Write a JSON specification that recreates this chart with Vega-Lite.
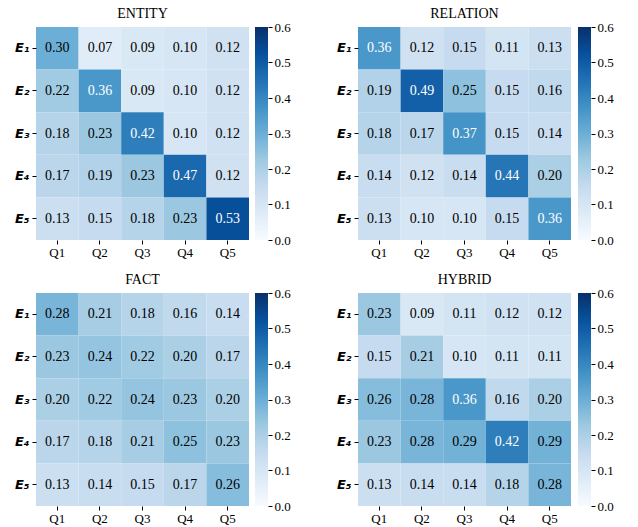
{
  "$schema": "https://vega.github.io/schema/vega-lite/v6.json",
  "padding": {"left": 14, "top": 7, "right": 5, "bottom": 0},
  "background": "white",
  "config": {
    "view": {"stroke": null},
    "title": {"font": "Liberation Serif", "fontSize": 14, "fontWeight": "normal", "color": "black", "offset": 6},
    "axis": {"labelFont": "Liberation Serif", "labelFontSize": 13, "labelColor": "black", "tickColor": "black", "domain": false, "tickSize": 4, "labelPadding": 2, "title": null, "grid": false},
    "axisX": {"labelAngle": 0}
  },
  "datasets": {
    "bar": [{"lo": 0, "hi": 0.6}],
    "cells": [
      {"p":"ENTITY","r":"E₁","q":"Q1","v":0.30},{"p":"ENTITY","r":"E₁","q":"Q2","v":0.07},{"p":"ENTITY","r":"E₁","q":"Q3","v":0.09},{"p":"ENTITY","r":"E₁","q":"Q4","v":0.10},{"p":"ENTITY","r":"E₁","q":"Q5","v":0.12},
      {"p":"ENTITY","r":"E₂","q":"Q1","v":0.22},{"p":"ENTITY","r":"E₂","q":"Q2","v":0.36},{"p":"ENTITY","r":"E₂","q":"Q3","v":0.09},{"p":"ENTITY","r":"E₂","q":"Q4","v":0.10},{"p":"ENTITY","r":"E₂","q":"Q5","v":0.12},
      {"p":"ENTITY","r":"E₃","q":"Q1","v":0.18},{"p":"ENTITY","r":"E₃","q":"Q2","v":0.23},{"p":"ENTITY","r":"E₃","q":"Q3","v":0.42},{"p":"ENTITY","r":"E₃","q":"Q4","v":0.10},{"p":"ENTITY","r":"E₃","q":"Q5","v":0.12},
      {"p":"ENTITY","r":"E₄","q":"Q1","v":0.17},{"p":"ENTITY","r":"E₄","q":"Q2","v":0.19},{"p":"ENTITY","r":"E₄","q":"Q3","v":0.23},{"p":"ENTITY","r":"E₄","q":"Q4","v":0.47},{"p":"ENTITY","r":"E₄","q":"Q5","v":0.12},
      {"p":"ENTITY","r":"E₅","q":"Q1","v":0.13},{"p":"ENTITY","r":"E₅","q":"Q2","v":0.15},{"p":"ENTITY","r":"E₅","q":"Q3","v":0.18},{"p":"ENTITY","r":"E₅","q":"Q4","v":0.23},{"p":"ENTITY","r":"E₅","q":"Q5","v":0.53},
      {"p":"RELATION","r":"E₁","q":"Q1","v":0.36},{"p":"RELATION","r":"E₁","q":"Q2","v":0.12},{"p":"RELATION","r":"E₁","q":"Q3","v":0.15},{"p":"RELATION","r":"E₁","q":"Q4","v":0.11},{"p":"RELATION","r":"E₁","q":"Q5","v":0.13},
      {"p":"RELATION","r":"E₂","q":"Q1","v":0.19},{"p":"RELATION","r":"E₂","q":"Q2","v":0.49},{"p":"RELATION","r":"E₂","q":"Q3","v":0.25},{"p":"RELATION","r":"E₂","q":"Q4","v":0.15},{"p":"RELATION","r":"E₂","q":"Q5","v":0.16},
      {"p":"RELATION","r":"E₃","q":"Q1","v":0.18},{"p":"RELATION","r":"E₃","q":"Q2","v":0.17},{"p":"RELATION","r":"E₃","q":"Q3","v":0.37},{"p":"RELATION","r":"E₃","q":"Q4","v":0.15},{"p":"RELATION","r":"E₃","q":"Q5","v":0.14},
      {"p":"RELATION","r":"E₄","q":"Q1","v":0.14},{"p":"RELATION","r":"E₄","q":"Q2","v":0.12},{"p":"RELATION","r":"E₄","q":"Q3","v":0.14},{"p":"RELATION","r":"E₄","q":"Q4","v":0.44},{"p":"RELATION","r":"E₄","q":"Q5","v":0.20},
      {"p":"RELATION","r":"E₅","q":"Q1","v":0.13},{"p":"RELATION","r":"E₅","q":"Q2","v":0.10},{"p":"RELATION","r":"E₅","q":"Q3","v":0.10},{"p":"RELATION","r":"E₅","q":"Q4","v":0.15},{"p":"RELATION","r":"E₅","q":"Q5","v":0.36},
      {"p":"FACT","r":"E₁","q":"Q1","v":0.28},{"p":"FACT","r":"E₁","q":"Q2","v":0.21},{"p":"FACT","r":"E₁","q":"Q3","v":0.18},{"p":"FACT","r":"E₁","q":"Q4","v":0.16},{"p":"FACT","r":"E₁","q":"Q5","v":0.14},
      {"p":"FACT","r":"E₂","q":"Q1","v":0.23},{"p":"FACT","r":"E₂","q":"Q2","v":0.24},{"p":"FACT","r":"E₂","q":"Q3","v":0.22},{"p":"FACT","r":"E₂","q":"Q4","v":0.20},{"p":"FACT","r":"E₂","q":"Q5","v":0.17},
      {"p":"FACT","r":"E₃","q":"Q1","v":0.20},{"p":"FACT","r":"E₃","q":"Q2","v":0.22},{"p":"FACT","r":"E₃","q":"Q3","v":0.24},{"p":"FACT","r":"E₃","q":"Q4","v":0.23},{"p":"FACT","r":"E₃","q":"Q5","v":0.20},
      {"p":"FACT","r":"E₄","q":"Q1","v":0.17},{"p":"FACT","r":"E₄","q":"Q2","v":0.18},{"p":"FACT","r":"E₄","q":"Q3","v":0.21},{"p":"FACT","r":"E₄","q":"Q4","v":0.25},{"p":"FACT","r":"E₄","q":"Q5","v":0.23},
      {"p":"FACT","r":"E₅","q":"Q1","v":0.13},{"p":"FACT","r":"E₅","q":"Q2","v":0.14},{"p":"FACT","r":"E₅","q":"Q3","v":0.15},{"p":"FACT","r":"E₅","q":"Q4","v":0.17},{"p":"FACT","r":"E₅","q":"Q5","v":0.26},
      {"p":"HYBRID","r":"E₁","q":"Q1","v":0.23},{"p":"HYBRID","r":"E₁","q":"Q2","v":0.09},{"p":"HYBRID","r":"E₁","q":"Q3","v":0.11},{"p":"HYBRID","r":"E₁","q":"Q4","v":0.12},{"p":"HYBRID","r":"E₁","q":"Q5","v":0.12},
      {"p":"HYBRID","r":"E₂","q":"Q1","v":0.15},{"p":"HYBRID","r":"E₂","q":"Q2","v":0.21},{"p":"HYBRID","r":"E₂","q":"Q3","v":0.10},{"p":"HYBRID","r":"E₂","q":"Q4","v":0.11},{"p":"HYBRID","r":"E₂","q":"Q5","v":0.11},
      {"p":"HYBRID","r":"E₃","q":"Q1","v":0.26},{"p":"HYBRID","r":"E₃","q":"Q2","v":0.28},{"p":"HYBRID","r":"E₃","q":"Q3","v":0.36},{"p":"HYBRID","r":"E₃","q":"Q4","v":0.16},{"p":"HYBRID","r":"E₃","q":"Q5","v":0.20},
      {"p":"HYBRID","r":"E₄","q":"Q1","v":0.23},{"p":"HYBRID","r":"E₄","q":"Q2","v":0.28},{"p":"HYBRID","r":"E₄","q":"Q3","v":0.29},{"p":"HYBRID","r":"E₄","q":"Q4","v":0.42},{"p":"HYBRID","r":"E₄","q":"Q5","v":0.29},
      {"p":"HYBRID","r":"E₅","q":"Q1","v":0.13},{"p":"HYBRID","r":"E₅","q":"Q2","v":0.14},{"p":"HYBRID","r":"E₅","q":"Q3","v":0.14},{"p":"HYBRID","r":"E₅","q":"Q4","v":0.18},{"p":"HYBRID","r":"E₅","q":"Q5","v":0.28}
    ]
  },
  "columns": 2,
  "spacing": {"column": 45, "row": 14},
  "concat": [
    {"spacing": 6, "hconcat": [
      {
        "title": "ENTITY", "width": 213, "height": 213, "data": {"name": "cells"},
        "transform": [{"filter": "datum.p === 'ENTITY'"}],
        "encoding": {"x": {"field": "q", "type": "nominal"}, "y": {"field": "r", "type": "nominal", "axis": {"labelFont": "DejaVu Sans", "labelFontWeight": "bold", "labelFontStyle": "italic", "labelFontSize": 13, "labelPadding": 3}}},
        "layer": [
          {"mark": {"type": "rect"}, "encoding": {"color": {"field": "v", "type": "quantitative", "legend": null, "scale": {"type": "linear", "interpolate": "rgb", "domain": [0, 0.075, 0.15, 0.225, 0.3, 0.375, 0.45, 0.525, 0.6], "range": ["#f7fbff", "#deebf7", "#c6dbef", "#9ecae1", "#6baed6", "#4292c6", "#2171b5", "#08519c", "#08306b"]}}}},
          {"mark": {"type": "text", "font": "Liberation Serif", "fontSize": 14}, "encoding": {"text": {"field": "v", "type": "quantitative", "format": ".2f"}, "color": {"condition": {"test": "datum.v > 0.33", "value": "white"}, "value": "black"}}}
        ]
      },
      {
        "width": 13, "height": 213, "data": {"name": "bar"},
        "mark": {"type": "rect", "color": {"gradient": "linear", "x1": 0, "y1": 1, "x2": 0, "y2": 0, "stops": [{"offset": 0, "color": "#f7fbff"}, {"offset": 0.125, "color": "#deebf7"}, {"offset": 0.25, "color": "#c6dbef"}, {"offset": 0.375, "color": "#9ecae1"}, {"offset": 0.5, "color": "#6baed6"}, {"offset": 0.625, "color": "#4292c6"}, {"offset": 0.75, "color": "#2171b5"}, {"offset": 0.875, "color": "#08519c"}, {"offset": 1, "color": "#08306b"}]}},
        "encoding": {"y": {"field": "lo", "type": "quantitative", "scale": {"domain": [0, 0.6], "nice": false}, "axis": {"orient": "right", "values": [0, 0.1, 0.2, 0.3, 0.4, 0.5, 0.6], "format": ".1f"}}, "y2": {"field": "hi"}}
      }
    ]},
    {"spacing": 7, "hconcat": [
      {
        "title": "RELATION", "width": 213, "height": 213, "data": {"name": "cells"},
        "transform": [{"filter": "datum.p === 'RELATION'"}],
        "encoding": {"x": {"field": "q", "type": "nominal"}, "y": {"field": "r", "type": "nominal", "axis": {"labelFont": "DejaVu Sans", "labelFontWeight": "bold", "labelFontStyle": "italic", "labelFontSize": 13, "labelPadding": 3}}},
        "layer": [
          {"mark": {"type": "rect"}, "encoding": {"color": {"field": "v", "type": "quantitative", "legend": null, "scale": {"type": "linear", "interpolate": "rgb", "domain": [0, 0.075, 0.15, 0.225, 0.3, 0.375, 0.45, 0.525, 0.6], "range": ["#f7fbff", "#deebf7", "#c6dbef", "#9ecae1", "#6baed6", "#4292c6", "#2171b5", "#08519c", "#08306b"]}}}},
          {"mark": {"type": "text", "font": "Liberation Serif", "fontSize": 14}, "encoding": {"text": {"field": "v", "type": "quantitative", "format": ".2f"}, "color": {"condition": {"test": "datum.v > 0.33", "value": "white"}, "value": "black"}}}
        ]
      },
      {
        "width": 13, "height": 213, "data": {"name": "bar"},
        "mark": {"type": "rect", "color": {"gradient": "linear", "x1": 0, "y1": 1, "x2": 0, "y2": 0, "stops": [{"offset": 0, "color": "#f7fbff"}, {"offset": 0.125, "color": "#deebf7"}, {"offset": 0.25, "color": "#c6dbef"}, {"offset": 0.375, "color": "#9ecae1"}, {"offset": 0.5, "color": "#6baed6"}, {"offset": 0.625, "color": "#4292c6"}, {"offset": 0.75, "color": "#2171b5"}, {"offset": 0.875, "color": "#08519c"}, {"offset": 1, "color": "#08306b"}]}},
        "encoding": {"y": {"field": "lo", "type": "quantitative", "scale": {"domain": [0, 0.6], "nice": false}, "axis": {"orient": "right", "values": [0, 0.1, 0.2, 0.3, 0.4, 0.5, 0.6], "format": ".1f"}}, "y2": {"field": "hi"}}
      }
    ]},
    {"spacing": 6, "hconcat": [
      {
        "title": "FACT", "width": 213, "height": 213, "data": {"name": "cells"},
        "transform": [{"filter": "datum.p === 'FACT'"}],
        "encoding": {"x": {"field": "q", "type": "nominal"}, "y": {"field": "r", "type": "nominal", "axis": {"labelFont": "DejaVu Sans", "labelFontWeight": "bold", "labelFontStyle": "italic", "labelFontSize": 13, "labelPadding": 3}}},
        "layer": [
          {"mark": {"type": "rect"}, "encoding": {"color": {"field": "v", "type": "quantitative", "legend": null, "scale": {"type": "linear", "interpolate": "rgb", "domain": [0, 0.075, 0.15, 0.225, 0.3, 0.375, 0.45, 0.525, 0.6], "range": ["#f7fbff", "#deebf7", "#c6dbef", "#9ecae1", "#6baed6", "#4292c6", "#2171b5", "#08519c", "#08306b"]}}}},
          {"mark": {"type": "text", "font": "Liberation Serif", "fontSize": 14}, "encoding": {"text": {"field": "v", "type": "quantitative", "format": ".2f"}, "color": {"condition": {"test": "datum.v > 0.33", "value": "white"}, "value": "black"}}}
        ]
      },
      {
        "width": 13, "height": 213, "data": {"name": "bar"},
        "mark": {"type": "rect", "color": {"gradient": "linear", "x1": 0, "y1": 1, "x2": 0, "y2": 0, "stops": [{"offset": 0, "color": "#f7fbff"}, {"offset": 0.125, "color": "#deebf7"}, {"offset": 0.25, "color": "#c6dbef"}, {"offset": 0.375, "color": "#9ecae1"}, {"offset": 0.5, "color": "#6baed6"}, {"offset": 0.625, "color": "#4292c6"}, {"offset": 0.75, "color": "#2171b5"}, {"offset": 0.875, "color": "#08519c"}, {"offset": 1, "color": "#08306b"}]}},
        "encoding": {"y": {"field": "lo", "type": "quantitative", "scale": {"domain": [0, 0.6], "nice": false}, "axis": {"orient": "right", "values": [0, 0.1, 0.2, 0.3, 0.4, 0.5, 0.6], "format": ".1f"}}, "y2": {"field": "hi"}}
      }
    ]},
    {"spacing": 7, "hconcat": [
      {
        "title": "HYBRID", "width": 213, "height": 213, "data": {"name": "cells"},
        "transform": [{"filter": "datum.p === 'HYBRID'"}],
        "encoding": {"x": {"field": "q", "type": "nominal"}, "y": {"field": "r", "type": "nominal", "axis": {"labelFont": "DejaVu Sans", "labelFontWeight": "bold", "labelFontStyle": "italic", "labelFontSize": 13, "labelPadding": 3}}},
        "layer": [
          {"mark": {"type": "rect"}, "encoding": {"color": {"field": "v", "type": "quantitative", "legend": null, "scale": {"type": "linear", "interpolate": "rgb", "domain": [0, 0.075, 0.15, 0.225, 0.3, 0.375, 0.45, 0.525, 0.6], "range": ["#f7fbff", "#deebf7", "#c6dbef", "#9ecae1", "#6baed6", "#4292c6", "#2171b5", "#08519c", "#08306b"]}}}},
          {"mark": {"type": "text", "font": "Liberation Serif", "fontSize": 14}, "encoding": {"text": {"field": "v", "type": "quantitative", "format": ".2f"}, "color": {"condition": {"test": "datum.v > 0.33", "value": "white"}, "value": "black"}}}
        ]
      },
      {
        "width": 13, "height": 213, "data": {"name": "bar"},
        "mark": {"type": "rect", "color": {"gradient": "linear", "x1": 0, "y1": 1, "x2": 0, "y2": 0, "stops": [{"offset": 0, "color": "#f7fbff"}, {"offset": 0.125, "color": "#deebf7"}, {"offset": 0.25, "color": "#c6dbef"}, {"offset": 0.375, "color": "#9ecae1"}, {"offset": 0.5, "color": "#6baed6"}, {"offset": 0.625, "color": "#4292c6"}, {"offset": 0.75, "color": "#2171b5"}, {"offset": 0.875, "color": "#08519c"}, {"offset": 1, "color": "#08306b"}]}},
        "encoding": {"y": {"field": "lo", "type": "quantitative", "scale": {"domain": [0, 0.6], "nice": false}, "axis": {"orient": "right", "values": [0, 0.1, 0.2, 0.3, 0.4, 0.5, 0.6], "format": ".1f"}}, "y2": {"field": "hi"}}
      }
    ]}
  ]
}
